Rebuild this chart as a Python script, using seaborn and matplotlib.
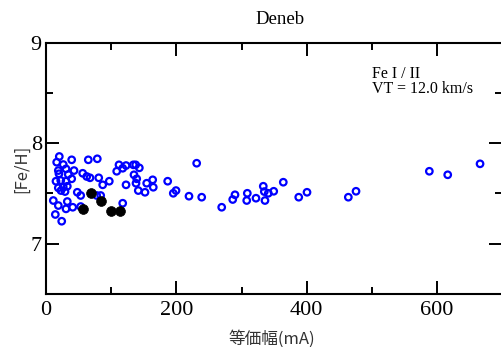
import matplotlib
matplotlib.use("Agg")
import matplotlib.pyplot as plt
import seaborn as sns
import pandas as pd
from matplotlib.ticker import MultipleLocator

# 等価幅 (mA) と [Fe/H] -- 白抜きの点
ew_open = [20.4, 16.4, 26.5, 39.4, 64.9, 78.7, 18.9, 30.7, 19.9, 34.2,
           43.0, 56.3, 62.5, 67.5, 80.9, 15.3, 22.6, 30.7, 39.4, 18.9,
           26.5, 32.7, 23.0, 29.2, 48.0, 53.2, 87.0, 97.1, 112.0, 108.5,
           117.7, 122.8, 134.0, 137.6, 143.2, 135.0, 139.2, 122.8, 138.1, 154.5,
           163.7, 164.6, 141.6, 151.9, 186.7, 195.3, 199.5, 77.8, 83.9, 11.2,
           18.9, 32.7, 30.7, 41.0, 53.2, 117.7, 14.3, 24.1,
           231.2, 219.4, 238.9, 269.6, 286.5, 290.0, 308.9, 308.0, 322.2, 333.4,
           335.0, 341.1, 336.0, 349.4, 364.1, 387.8, 400.5, 463.9, 475.7, 588.2,
           616.4, 666.0]
feh_open = [7.868, 7.811, 7.788, 7.835, 7.835, 7.845, 7.728, 7.745, 7.696, 7.689,
            7.728, 7.701, 7.669, 7.656, 7.656, 7.622, 7.629, 7.622, 7.646, 7.556,
            7.562, 7.572, 7.529, 7.519, 7.512, 7.480, 7.586, 7.622, 7.785, 7.721,
            7.751, 7.778, 7.785, 7.785, 7.755, 7.686, 7.646, 7.586, 7.602, 7.602,
            7.636, 7.562, 7.529, 7.512, 7.622, 7.502, 7.529, 7.480, 7.480, 7.430,
            7.380, 7.420, 7.347, 7.363, 7.370, 7.403, 7.291, 7.224,
            7.801, 7.473, 7.463, 7.363, 7.440, 7.487, 7.502, 7.430, 7.453, 7.572,
            7.519, 7.502, 7.430, 7.522, 7.612, 7.463, 7.512, 7.463, 7.522, 7.721,
            7.686, 7.795]

# 黒丸
ew_filled = [68.6, 84.9, 57.2, 99.7, 113.5]
feh_filled = [7.506, 7.427, 7.350, 7.327, 7.330]

star = "Deneb"
info = ["Fe I / II", "VT = 12.0 km/s"]

sns.set_style("ticks")
plt.rcParams['font.family'] = ['Liberation Serif', 'DejaVu Serif']

fig = plt.figure(figsize=(5.01, 3.47), dpi=100)
ax = fig.add_axes([46 / 501, 53 / 347, 456.2 / 501, 251.3 / 347])

df_open = pd.DataFrame({"ew": ew_open, "feh": feh_open})
df_filled = pd.DataFrame({"ew": ew_filled, "feh": feh_filled})

sns.scatterplot(data=df_open, x="ew", y="feh", ax=ax, marker="o", s=22,
                facecolors="none", edgecolor="#0000ff", linewidth=1.6, zorder=3)
sns.scatterplot(data=df_filled, x="ew", y="feh", ax=ax, marker="o", s=50,
                color="black", edgecolor="black", linewidth=0.5, zorder=4)

ax.set_xlim(0, 700)
ax.set_ylim(6.5, 9)
ax.xaxis.set_major_locator(MultipleLocator(200))
ax.xaxis.set_minor_locator(MultipleLocator(100))
ax.yaxis.set_major_locator(MultipleLocator(1))
ax.yaxis.set_minor_locator(MultipleLocator(0.5))
ax.tick_params(which="both", direction="in", top=True, right=True,
               width=1.4, color="black", labelcolor="black", labelsize=16)
ax.tick_params(which="major", length=9.5)
ax.tick_params(which="minor", length=5)
ax.tick_params(axis="x", pad=5)
ax.tick_params(axis="y", pad=3)
for sp in ax.spines.values():
    sp.set_linewidth(1.5)
    sp.set_color("black")
ax.set_xlabel("")
ax.set_ylabel("")

fig.text(280.5 / 501, (347 - 24) / 347, star, ha="center", va="baseline",
         fontsize=13.5, color="black")
# 2行の注記はひとつのテキストにまとめる
fig.text(371.5 / 501, (347 - 65.5) / 347, "\n".join(info), ha="left", va="top",
         fontsize=11.5, color="black", linespacing=0.95)

cjk = ['Noto Sans CJK JP', 'DejaVu Sans']
fig.text(271.7 / 501, (347 - 339) / 347, "等価幅(mA)", ha="center", va="center",
         fontsize=12, family=cjk, color="#333333")
fig.text(22 / 501, (347 - 169) / 347, "[Fe/H]", ha="center", va="center",
         rotation=90, fontsize=12, family=cjk, color="#333333")

fig.savefig("out.png", dpi=100)
